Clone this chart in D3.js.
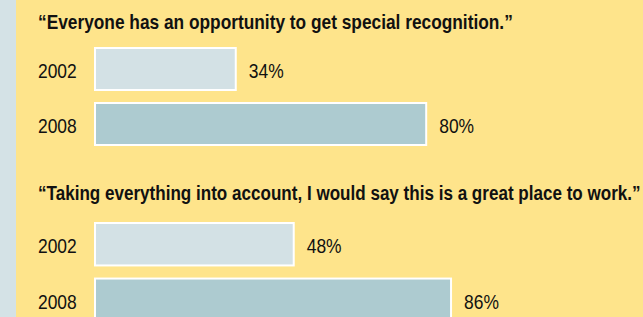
<!DOCTYPE html>
<html>
<head>
<meta charset="utf-8">
<script src="https://cdn.jsdelivr.net/npm/d3@7"></script>
<style>
  html, body { margin: 0; padding: 0; background: #FEE48B; }
  svg { display: block; }
  text { font-family: "Liberation Sans", Arial, sans-serif; fill: #111; }
</style>
</head>
<body>
<svg id="chart" width="643" height="317"></svg>
<script>
// ---- data ----
const questions = [
  "\u201CEveryone has an opportunity to get special recognition.\u201D",
  "\u201CTaking everything into account, I would say this is a great place to work.\u201D"
];
const years = ["2002", "2008"];
const values2002 = [34, 48];
const values2008 = [80, 86];

// ---- layout ----
const W = 643, H = 317;
const svg = d3.select("#chart");
const colors = { "2002": "#D3E1E5", "2008": "#ADCBD0" };

svg.append("rect").attr("x", 0).attr("y", 0).attr("width", W).attr("height", H).attr("fill", "#FEE48B");
svg.append("rect").attr("x", 0).attr("y", 0).attr("width", 16).attr("height", H).attr("fill", "#D4E2E6");

const x = d3.scaleLinear().domain([0, 100]).range([95, 95 + 414]);

const groups = [
  { title: questions[0], titleY: 29, bandTop: 47, bandBottom: 146, vals: [values2002[0], values2008[0]], titleW: 475 },
  { title: questions[1], titleY: 200, bandTop: 222, bandBottom: 322, vals: [values2002[1], values2008[1]], titleW: 603 }
];

const NUM_F = 0.83;

function placeText(g, str, tx, ty, opts) {
  const t = g.append("text")
    .attr("x", 0).attr("y", 0)
    .style("font-size", opts.size + "px")
    .style("font-weight", opts.weight || "normal")
    .text(str);
  let f = opts.factor;
  if (opts.width) {
    const w = t.node().getComputedTextLength();
    f = opts.width / w;
  }
  t.attr("transform", `translate(${tx},${ty}) scale(${f},1)`);
  return t;
}

groups.forEach(gr => {
  const g = svg.append("g");
  placeText(g, gr.title, 38, gr.titleY, { size: 21, weight: "bold", width: gr.titleW });

  const y = d3.scaleBand().domain(years).range([gr.bandTop, gr.bandBottom]).paddingInner(0.2).paddingOuter(0);
  const data = years.map((yr, i) => ({ year: yr, value: gr.vals[i] }));

  g.selectAll("rect.bar").data(data).enter().append("rect")
    .attr("class", "bar")
    .attr("x", x(0))
    .attr("y", d => y(d.year) + 1)
    .attr("width", d => x(d.value) - x(0))
    .attr("height", y.bandwidth() - 2)
    .attr("fill", d => colors[d.year])
    .attr("stroke", "#fff")
    .attr("stroke-width", 2);

  data.forEach(d => {
    const cy = y(d.year) + y.bandwidth() / 2 + 9;
    placeText(g, d.year, 38, cy, { size: 21, factor: NUM_F });
    placeText(g, d.value + "%", x(d.value) + 13, cy, { size: 21, factor: NUM_F });
  });
});
</script>
</body>
</html>
